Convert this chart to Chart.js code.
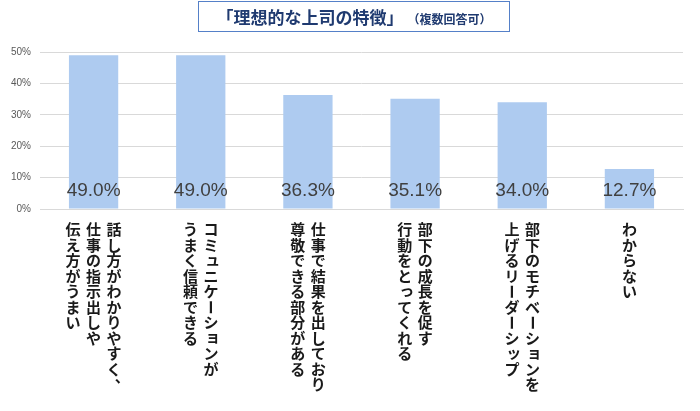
<!DOCTYPE html>
<html>
<head>
<meta charset="utf-8">
<script src="https://cdn.jsdelivr.net/npm/chart.js@4"></script>
<style>
body { margin: 0; background: #fff; }
#wrap { position: relative; width: 700px; height: 411px; }
#title {
    position: absolute; left: 198px; top: 1px; width: 310px; height: 29px;
    border: 1.5px solid #5580c8; text-align: center; line-height: 29px;
    font-family: "Noto Sans CJK JP"; font-weight: bold; color: #1f3a70; font-size: 17px;
}
#title span { font-size: 12px; margin-left: 10px; }
</style>
</head>
<body>
<div id="wrap">
    <canvas id="myChart" width="700" height="411"></canvas>
    <div id="title">「理想的な上司の特徴」<span>（複数回答可）</span></div>
</div>
<script>
'use strict';
// each label is a list of vertical columns, read right to left
var labels = [
    ['話し方がわかりやすく、', '仕事の指示出しや', '伝え方がうまい'],
    ['コミュニケーションが', 'うまく信頼できる'],
    ['仕事で結果を出しており', '尊敬できる部分がある'],
    ['部下の成長を促す', '行動をとってくれる'],
    ['部下のモチベーションを', '上げるリーダーシップ'],
    ['わからない']
];
var values = [49.0, 49.0, 36.3, 35.1, 34.0, 12.7];
var yTicks = [0, 10, 20, 30, 40, 50];

var smallKana = 'ぁぃぅぇぉっゃゅょァィゥェォッャュョ';

var valueLabels = {
    id: 'valueLabels',
    afterDatasetsDraw: function(chart) {
        var ctx = chart.ctx;
        var y = chart.scales.y.getPixelForValue(0) - 18;
        ctx.save();
        ctx.font = '19px "Liberation Sans"';
        ctx.fillStyle = '#404040';
        ctx.textAlign = 'center';
        ctx.textBaseline = 'middle';
        chart.getDatasetMeta(0).data.forEach(function(bar, i) {
            ctx.fillText(values[i].toFixed(1) + '%', bar.x, y);
        });
        ctx.restore();
    }
};

var verticalLabels = {
    id: 'verticalLabels',
    afterDraw: function(chart) {
        var ctx = chart.ctx;
        var xs = chart.scales.x;
        var fs = 15, charPitch = 15.5, colPitch = 20.5;
        var top = chart.scales.y.getPixelForValue(0) + 13;
        ctx.save();
        ctx.font = 'bold ' + fs + 'px "Noto Sans CJK JP"';
        ctx.fillStyle = '#1a1a1a';
        ctx.textAlign = 'center';
        ctx.textBaseline = 'middle';
        labels.forEach(function(cols, i) {
            var cx = xs.getPixelForTick(i);
            cols.forEach(function(col, j) {
                var x = cx + ((cols.length - 1) / 2 - j) * colPitch;
                Array.from(col).forEach(function(ch, k) {
                    var y = top + k * charPitch + charPitch / 2;
                    if (ch === 'ー') {
                        ctx.save();
                        ctx.translate(x, y);
                        ctx.rotate(Math.PI / 2);
                        ctx.fillText(ch, 0, 0);
                        ctx.restore();
                    } else if (ch === '、' || ch === '。') {
                        ctx.fillText(ch, x + fs * 0.55, y - fs * 0.55);
                    } else if (smallKana.indexOf(ch) >= 0) {
                        ctx.fillText(ch, x + fs * 0.12, y - fs * 0.12);
                    } else {
                        ctx.fillText(ch, x, y);
                    }
                });
            });
        });
        ctx.restore();
    }
};

var ctx = document.getElementById('myChart');
var myChart = new Chart(ctx, {
    type: 'bar',
    data: {
        labels: labels,
        datasets: [{
            data: values,
            backgroundColor: '#aecbf0',
            barPercentage: 0.46,
            categoryPercentage: 1
        }]
    },
    options: {
        responsive: false,
        animation: false,
        layout: { padding: { top: 52, bottom: 202, left: 0, right: 17 } },
        plugins: { legend: { display: false }, tooltip: { enabled: false } },
        scales: {
            x: {
                ticks: { display: false },
                grid: { display: false, drawTicks: false },
                border: { color: '#d9d9d9' }
            },
            y: {
                min: yTicks[0],
                max: yTicks[yTicks.length - 1],
                afterFit: function(scale) { scale.width = 40; },
                afterBuildTicks: function(scale) {
                    scale.ticks = yTicks.map(function(v) { return { value: v }; });
                },
                ticks: {
                    padding: 9,
                    color: '#595959',
                    font: { family: 'Liberation Sans', size: 10 },
                    callback: function(v) { return v + '%'; }
                },
                grid: { color: '#d9d9d9', drawTicks: false },
                border: { display: false }
            }
        }
    },
    plugins: [valueLabels, verticalLabels]
});
</script>
</body>
</html>
